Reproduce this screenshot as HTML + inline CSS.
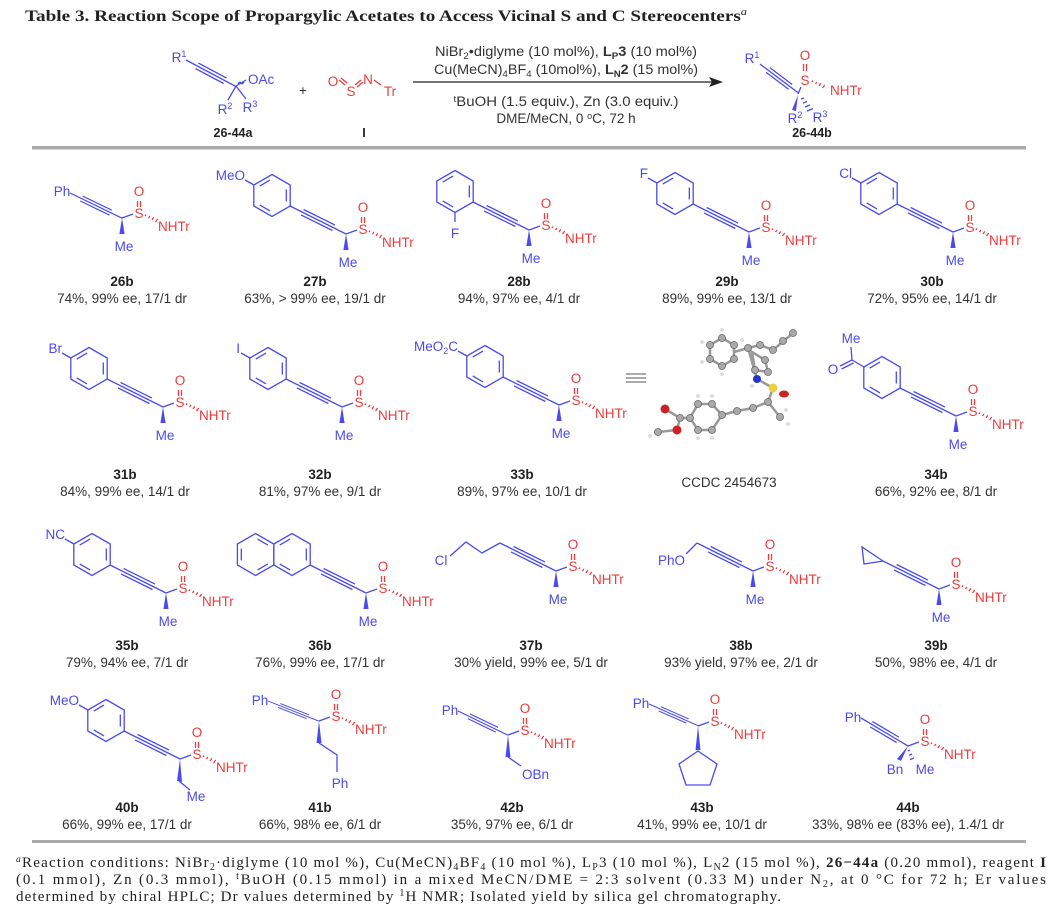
<!DOCTYPE html>
<html><head><meta charset="utf-8">
<style>
html,body{margin:0;padding:0;background:#fff;}
svg{display:block;}
text{font-family:"Liberation Sans",Arial,sans-serif;font-size:13.5px;}
.b{fill:#4a4af0;} .r{fill:#ee3a3a;} .k{fill:#222;font-weight:bold;} .g{fill:#333;}
.m{text-anchor:middle;} .e{text-anchor:end;}
.serif{font-family:"Liberation Serif","Times New Roman",serif;}
.bl{stroke:#4a4af0;stroke-width:1.3;fill:none;}
.rl{stroke:#ee3a3a;stroke-width:1.3;fill:none;}
</style></head><body>
<svg width="1058" height="912" viewBox="0 0 1058 912" xmlns="http://www.w3.org/2000/svg">
<defs>
<g id="yn" class="bl"><line x1="0" y1="0" x2="56" y2="28"/><line x1="11" y1="8.9" x2="42.4" y2="24.5"/><line x1="13.6" y1="3.5" x2="45" y2="19.1"/></g>
<g id="bz" class="bl"><path d="M0,-21 L18.2,-10.5 L18.2,10.5 L0,21 L-18.2,10.5 L-18.2,-10.5 Z"/><line x1="14.3" y1="-6" x2="14.3" y2="6"/><line x1="-2" y1="15.4" x2="-12.3" y2="9.4"/><line x1="-12.3" y1="-9.4" x2="-2" y2="-15.4"/></g>
<g id="tl"><line class="bl" x1="0" y1="0" x2="11" y2="-4"/><line class="rl" x1="15.5" y1="-17" x2="15.5" y2="-11"/><line class="rl" x1="18.5" y1="-17" x2="18.5" y2="-11"/><path class="rl" stroke-width="1.2" d="M23,-2 l1,-1.5 M26.5,0 l1.4,-2 M30,2 l1.8,-2.6 M33.5,4 l2.2,-3"/></g>
<g id="wd"><path d="M0,0 L-2.6,16 L2.6,16 Z" fill="#4a4af0"/></g>
</defs>

<!-- Title -->
<text x="25" y="21" class="serif" style="font-size:15.5px;font-weight:bold;fill:#222" textLength="722" lengthAdjust="spacingAndGlyphs">Table 3. Reaction Scope of Propargylic Acetates to Access Vicinal S and C Stereocenters<tspan style="font-style:italic;font-weight:normal;font-size:10px" dy="-6">a</tspan></text>

<!-- Header reactant -->
<text x="179" y="62" class="b m">R<tspan dy="-5" style="font-size:9px">1</tspan></text>
<g transform="translate(186,60) rotate(28) scale(1.03)"><g class="bl"><line x1="0" y1="0" x2="55" y2="0"/><line x1="12" y1="-3" x2="43" y2="-3"/><line x1="12" y1="3" x2="43" y2="3"/></g></g>
<line class="bl" x1="236" y1="86" x2="246" y2="80"/>
<path class="bl" d="M238,84 q2,-3 3,-1 q1,2 3,-1" />
<text x="248" y="84" class="b">OAc</text>
<line class="bl" x1="236" y1="86" x2="228" y2="100"/>
<line class="bl" x1="236" y1="86" x2="246" y2="99"/>
<text x="225" y="114" class="b m">R<tspan dy="-5" style="font-size:9px">2</tspan></text>
<text x="250" y="112" class="b m">R<tspan dy="-5" style="font-size:9px">3</tspan></text>
<text x="233" y="137" class="k m" style="font-size:12.5px">26-44a</text>
<text x="303" y="95" class="g m">+</text>
<text x="333" y="86" class="r m">O</text>
<line class="rl" x1="339" y1="80" x2="345" y2="85"/><line class="rl" x1="341" y1="78" x2="347" y2="83"/>
<text x="351" y="96" class="r m">S</text>
<line class="rl" x1="355" y1="85" x2="361" y2="80"/><line class="rl" x1="357" y1="87" x2="363" y2="82"/>
<text x="368" y="84" class="r m">N</text>
<line class="rl" x1="374" y1="80" x2="381" y2="85"/>
<text x="390" y="96" class="r m">Tr</text>
<text x="364" y="137" class="k m" style="font-size:12.5px">I</text>

<!-- Conditions -->
<text x="566" y="56" class="g m" textLength="262" lengthAdjust="spacingAndGlyphs">NiBr<tspan dy="3" style="font-size:9px">2</tspan><tspan dy="-3">•diglyme (10 mol%), </tspan><tspan font-weight="bold">L</tspan><tspan font-weight="bold" dy="3" style="font-size:9px">P</tspan><tspan font-weight="bold" dy="-3">3</tspan> (10 mol%)</text>
<text x="566" y="74" class="g m" textLength="264" lengthAdjust="spacingAndGlyphs">Cu(MeCN)<tspan dy="3" style="font-size:9px">4</tspan><tspan dy="-3">BF</tspan><tspan dy="3" style="font-size:9px">4</tspan><tspan dy="-3"> (10mol%), </tspan><tspan font-weight="bold">L</tspan><tspan font-weight="bold" dy="3" style="font-size:9px">N</tspan><tspan font-weight="bold" dy="-3">2</tspan> (15 mol%)</text>
<line x1="413" y1="82" x2="713" y2="82" stroke="#222" stroke-width="1.3"/>
<path d="M723,82 L709,77 L712,82 L709,87 Z" fill="#222"/>
<text x="566" y="106" class="g m" textLength="225" lengthAdjust="spacingAndGlyphs"><tspan dy="-4" style="font-size:9px">t</tspan><tspan dy="4">BuOH (1.5 equiv.), Zn (3.0 equiv.)</tspan></text>
<text x="566" y="123" class="g m">DME/MeCN, 0 <tspan dy="-4" style="font-size:9px">o</tspan><tspan dy="4">C, 72 h</tspan></text>

<!-- Header product -->
<text x="752" y="63" class="b m">R<tspan dy="-5" style="font-size:9px">1</tspan></text>
<g transform="translate(760,64) rotate(37)"><g class="bl"><line x1="0" y1="0" x2="48" y2="0"/><line x1="10" y1="-3" x2="38" y2="-3"/><line x1="10" y1="3" x2="38" y2="3"/></g></g>
<line class="bl" x1="798" y1="94" x2="801" y2="87"/>
<text x="805" y="85" class="r m">S</text>
<text x="805" y="60" class="r m">O</text>
<line class="rl" x1="803.5" y1="64" x2="803.5" y2="71"/><line class="rl" x1="806.5" y1="64" x2="806.5" y2="71"/>
<path class="rl" d="M812,82 l1,-1.5 M815.5,84 l1.4,-2 M819,86 l1.8,-2.6 M822.5,88 l2.2,-3"/>
<text x="830" y="95" class="r">NHTr</text>
<path d="M798,95 L792,110 L796,111 Z" fill="#4a4af0"/>
<path class="bl" d="M801,99 l3,-1 M803,103 l4,-1.5 M805,107 l5,-2 M807,111 l6,-2.5"/>
<text x="795" y="123" class="b m">R<tspan dy="-5" style="font-size:9px">2</tspan></text>
<text x="820" y="122" class="b m">R<tspan dy="-5" style="font-size:9px">3</tspan></text>
<text x="812" y="137" class="k m" style="font-size:12.5px">26-44b</text>

<rect x="32" y="146" width="994" height="3.5" fill="#aaa"/>

<!-- ===== Row 1 ===== -->
<text x="62" y="196" class="b m">Ph</text>
<use href="#yn" transform="translate(70,193) scale(0.93,0.9)"/>
<use href="#tl" transform="translate(122,218)"/><use href="#wd" transform="translate(122,218)"/>
<g transform="translate(122,218)"><text x="17" y="0" class="r m">S</text><text x="17" y="-22" class="r m">O</text><text x="36" y="13" class="r">NHTr</text><text x="2" y="33" class="b m">Me</text></g>
<text x="122" y="286" class="k m">26b</text><text x="122" y="303" class="g m">74%, 99% ee, 17/1 dr</text>

<use href="#bz" transform="translate(272,195.5)"/>
<line class="bl" x1="254" y1="185" x2="245" y2="180"/>
<text x="245" y="180" class="b e">MeO</text>
<use href="#yn" transform="translate(290,206)"/>
<use href="#tl" transform="translate(346,234)"/><use href="#wd" transform="translate(346,234)"/>
<g transform="translate(346,234)"><text x="17" y="0" class="r m">S</text><text x="17" y="-22" class="r m">O</text><text x="36" y="13" class="r">NHTr</text><text x="2" y="33" class="b m">Me</text></g>
<text x="315" y="286" class="k m">27b</text><text x="315" y="303" class="g m">63%, &gt; 99% ee, 19/1 dr</text>

<use href="#bz" transform="translate(455,191.5)"/>
<line class="bl" x1="455" y1="212.5" x2="455" y2="222"/>
<text x="455" y="238" class="b m">F</text>
<use href="#yn" transform="translate(473,202)"/>
<use href="#tl" transform="translate(529,230)"/><use href="#wd" transform="translate(529,230)"/>
<g transform="translate(529,230)"><text x="17" y="0" class="r m">S</text><text x="17" y="-22" class="r m">O</text><text x="36" y="13" class="r">NHTr</text><text x="2" y="33" class="b m">Me</text></g>
<text x="519" y="286" class="k m">28b</text><text x="519" y="303" class="g m">94%, 97% ee, 4/1 dr</text>

<use href="#bz" transform="translate(675,193.5)"/>
<line class="bl" x1="657" y1="183" x2="648" y2="178"/>
<text x="648" y="178" class="b e">F</text>
<use href="#yn" transform="translate(693,204)"/>
<use href="#tl" transform="translate(749,232)"/><use href="#wd" transform="translate(749,232)"/>
<g transform="translate(749,232)"><text x="17" y="0" class="r m">S</text><text x="17" y="-22" class="r m">O</text><text x="36" y="13" class="r">NHTr</text><text x="2" y="33" class="b m">Me</text></g>
<text x="727" y="286" class="k m">29b</text><text x="727" y="303" class="g m">89%, 99% ee, 13/1 dr</text>

<use href="#bz" transform="translate(879,193.5)"/>
<line class="bl" x1="861" y1="183" x2="852" y2="178"/>
<text x="852" y="178" class="b e">Cl</text>
<use href="#yn" transform="translate(897,204)"/>
<use href="#tl" transform="translate(953,232)"/><use href="#wd" transform="translate(953,232)"/>
<g transform="translate(953,232)"><text x="17" y="0" class="r m">S</text><text x="17" y="-22" class="r m">O</text><text x="36" y="13" class="r">NHTr</text><text x="2" y="33" class="b m">Me</text></g>
<text x="932" y="286" class="k m">30b</text><text x="932" y="303" class="g m">72%, 95% ee, 14/1 dr</text>

<!-- ===== Row 2 ===== -->
<use href="#bz" transform="translate(89,368.5)"/>
<line class="bl" x1="71" y1="358" x2="62" y2="353"/>
<text x="62" y="353" class="b e">Br</text>
<use href="#yn" transform="translate(107,379)"/>
<use href="#tl" transform="translate(163,407)"/><use href="#wd" transform="translate(163,407)"/>
<g transform="translate(163,407)"><text x="17" y="0" class="r m">S</text><text x="17" y="-22" class="r m">O</text><text x="36" y="13" class="r">NHTr</text><text x="2" y="33" class="b m">Me</text></g>
<text x="125" y="479" class="k m">31b</text><text x="125" y="496" class="g m">84%, 99% ee, 14/1 dr</text>

<use href="#bz" transform="translate(268,368.5)"/>
<line class="bl" x1="250" y1="358" x2="241" y2="353"/>
<text x="240" y="353" class="b e">I</text>
<use href="#yn" transform="translate(286,379)"/>
<use href="#tl" transform="translate(342,407)"/><use href="#wd" transform="translate(342,407)"/>
<g transform="translate(342,407)"><text x="17" y="0" class="r m">S</text><text x="17" y="-22" class="r m">O</text><text x="36" y="13" class="r">NHTr</text><text x="2" y="33" class="b m">Me</text></g>
<text x="320" y="479" class="k m">32b</text><text x="320" y="496" class="g m">81%, 97% ee, 9/1 dr</text>

<use href="#bz" transform="translate(485,366.5)"/>
<line class="bl" x1="467" y1="356" x2="458" y2="351"/>
<text x="458" y="351" class="b e">MeO<tspan dy="3" style="font-size:9px">2</tspan><tspan dy="-3">C</tspan></text>
<use href="#yn" transform="translate(503,377)"/>
<use href="#tl" transform="translate(559,405)"/><use href="#wd" transform="translate(559,405)"/>
<g transform="translate(559,405)"><text x="17" y="0" class="r m">S</text><text x="17" y="-22" class="r m">O</text><text x="36" y="13" class="r">NHTr</text><text x="2" y="33" class="b m">Me</text></g>
<text x="522" y="479" class="k m">33b</text><text x="522" y="496" class="g m">89%, 97% ee, 10/1 dr</text>

<g stroke="#777" stroke-width="1.3"><line x1="626" y1="374" x2="646" y2="374"/><line x1="626" y1="378" x2="646" y2="378"/><line x1="626" y1="382" x2="646" y2="382"/></g>

<g stroke="#999" stroke-width="2.5" fill="none">
<path d="M722,338 L734,345 L734,359 L722,366 L710,359 L710,345 Z"/>
<path d="M734,352 L748,348 L757,379 L773,388 L768,402 L780,417"/>
<path d="M748,348 L760,345 L773,350 L793,333"/>
<path d="M752,352 L765,360 L768,372 L755,370 Z"/>
<path d="M768,402 L753,408 L737,411 L722,415"/>
<path d="M722,415 L712,404 L698,404 L690,418 L698,430 L712,430 Z"/>
<path d="M690,418 L680,418 L665,409 M680,418 L677,430 L658,432"/>
</g>
<g fill="#aaa" stroke="#666" stroke-width="0.8">
<circle cx="722" cy="338" r="3.5"/><circle cx="734" cy="345" r="3.5"/><circle cx="734" cy="359" r="3.5"/><circle cx="722" cy="366" r="3.5"/><circle cx="710" cy="359" r="3.5"/><circle cx="710" cy="345" r="3.5"/>
<circle cx="748" cy="348" r="3.5"/><circle cx="760" cy="345" r="3.5"/><circle cx="773" cy="350" r="3.5"/><circle cx="783" cy="341" r="3.5"/><circle cx="793" cy="333" r="3.5"/>
<circle cx="765" cy="360" r="3.5"/><circle cx="768" cy="372" r="3.5"/><circle cx="755" cy="370" r="3.5"/>
<circle cx="768" cy="402" r="3.5"/><circle cx="780" cy="417" r="3.5"/><circle cx="753" cy="408" r="3.5"/><circle cx="737" cy="411" r="3.5"/><circle cx="722" cy="415" r="3.5"/>
<circle cx="712" cy="404" r="3.5"/><circle cx="698" cy="404" r="3.5"/><circle cx="690" cy="418" r="3.5"/><circle cx="698" cy="430" r="3.5"/><circle cx="712" cy="430" r="3.5"/><circle cx="680" cy="418" r="3.5"/><circle cx="658" cy="432" r="3.5"/>
</g>
<circle cx="757" cy="379" r="4" fill="#2233cc"/>
<circle cx="773" cy="388" r="4.5" fill="#e8d040"/>
<ellipse cx="784" cy="394" rx="5" ry="3.5" fill="#cc2222"/>
<circle cx="665" cy="409" r="4.5" fill="#cc2222"/>
<circle cx="677" cy="430" r="4.5" fill="#cc2222"/>
<g fill="#ddd"><circle cx="722" cy="330" r="2"/><circle cx="742" cy="340" r="2"/><circle cx="702" cy="342" r="2"/><circle cx="702" cy="362" r="2"/><circle cx="722" cy="374" r="2"/><circle cx="788" cy="424" r="2"/><circle cx="786" cy="410" r="2"/><circle cx="712" cy="396" r="2"/><circle cx="698" cy="396" r="2"/><circle cx="698" cy="438" r="2"/><circle cx="712" cy="438" r="2"/><circle cx="650" cy="436" r="2"/><circle cx="752" cy="386" r="2"/></g>
<text x="729" y="487" class="g m">CCDC 2454673</text>

<use href="#bz" transform="translate(882,377.5)"/>
<line class="bl" x1="864" y1="367" x2="852" y2="360"/>
<line class="bl" x1="852" y1="360" x2="851" y2="347"/>
<text x="851" y="343" class="b m">Me</text>
<line class="bl" x1="852" y1="360" x2="840" y2="366"/><line class="bl" x1="853.5" y1="363" x2="841.5" y2="369"/>
<text x="833" y="374" class="b m">O</text>
<use href="#yn" transform="translate(900,388)"/>
<use href="#tl" transform="translate(956,416)"/><use href="#wd" transform="translate(956,416)"/>
<g transform="translate(956,416)"><text x="17" y="0" class="r m">S</text><text x="17" y="-22" class="r m">O</text><text x="36" y="13" class="r">NHTr</text><text x="2" y="33" class="b m">Me</text></g>
<text x="936" y="479" class="k m">34b</text><text x="936" y="496" class="g m">66%, 92% ee, 8/1 dr</text>

<!-- ===== Row 3 ===== -->
<use href="#bz" transform="translate(92,554.5)"/>
<line class="bl" x1="74" y1="544" x2="65" y2="539"/>
<text x="65" y="539" class="b e">NC</text>
<use href="#yn" transform="translate(110,565)"/>
<use href="#tl" transform="translate(166,593)"/><use href="#wd" transform="translate(166,593)"/>
<g transform="translate(166,593)"><text x="17" y="0" class="r m">S</text><text x="17" y="-22" class="r m">O</text><text x="36" y="13" class="r">NHTr</text><text x="2" y="33" class="b m">Me</text></g>
<text x="127" y="650" class="k m">35b</text><text x="127" y="667" class="g m">79%, 94% ee, 7/1 dr</text>

<use href="#bz" transform="translate(292,554.5)"/>
<use href="#bz" transform="translate(255.6,554.5) scale(-1,1)"/>
<use href="#yn" transform="translate(310,565)"/>
<use href="#tl" transform="translate(366,593)"/><use href="#wd" transform="translate(366,593)"/>
<g transform="translate(366,593)"><text x="17" y="0" class="r m">S</text><text x="17" y="-22" class="r m">O</text><text x="36" y="13" class="r">NHTr</text><text x="2" y="33" class="b m">Me</text></g>
<text x="320" y="650" class="k m">36b</text><text x="320" y="667" class="g m">76%, 99% ee, 17/1 dr</text>

<text x="441" y="565" class="b m">Cl</text>
<polyline class="bl" points="450,556 466,542 482,553 500,543"/>
<use href="#yn" transform="translate(500,543)"/>
<use href="#tl" transform="translate(556,571)"/><use href="#wd" transform="translate(556,571)"/>
<g transform="translate(556,571)"><text x="17" y="0" class="r m">S</text><text x="17" y="-22" class="r m">O</text><text x="36" y="13" class="r">NHTr</text><text x="2" y="33" class="b m">Me</text></g>
<text x="531" y="650" class="k m">37b</text><text x="531" y="667" class="g m">30% yield, 99% ee, 5/1 dr</text>

<text x="685" y="565" class="b e">PhO</text>
<polyline class="bl" points="686,554 686,554 697,543"/>
<use href="#yn" transform="translate(697,543)"/>
<use href="#tl" transform="translate(753,571)"/><use href="#wd" transform="translate(753,571)"/>
<g transform="translate(753,571)"><text x="17" y="0" class="r m">S</text><text x="17" y="-22" class="r m">O</text><text x="36" y="13" class="r">NHTr</text><text x="2" y="33" class="b m">Me</text></g>
<text x="741" y="650" class="k m">38b</text><text x="741" y="667" class="g m">93% yield, 97% ee, 2/1 dr</text>

<path class="bl" d="M883,561 L862,547 L864,564 Z"/>
<use href="#yn" transform="translate(883,561)"/>
<use href="#tl" transform="translate(939,589)"/><use href="#wd" transform="translate(939,589)"/>
<g transform="translate(939,589)"><text x="17" y="0" class="r m">S</text><text x="17" y="-22" class="r m">O</text><text x="36" y="13" class="r">NHTr</text><text x="2" y="33" class="b m">Me</text></g>
<text x="936" y="650" class="k m">39b</text><text x="936" y="667" class="g m">50%, 98% ee, 4/1 dr</text>

<!-- ===== Row 4 ===== -->
<use href="#bz" transform="translate(106,720.5)"/>
<line class="bl" x1="88" y1="710" x2="79" y2="705"/>
<text x="79" y="705" class="b e">MeO</text>
<use href="#yn" transform="translate(124,731)"/>
<use href="#tl" transform="translate(180,759)"/>
<path d="M180,759 L177,781 L182,782 Z" fill="#4a4af0"/>
<line class="bl" x1="179.5" y1="781.5" x2="190" y2="790"/>
<text x="196" y="801" class="b m">Me</text>
<g transform="translate(180,759)"><text x="17" y="0" class="r m">S</text><text x="17" y="-22" class="r m">O</text><text x="36" y="13" class="r">NHTr</text></g>
<text x="127" y="812" class="k m">40b</text><text x="127" y="829" class="g m">66%, 99% ee, 17/1 dr</text>

<text x="260" y="705" class="b m">Ph</text>
<use href="#yn" transform="translate(268,701) scale(0.91,0.72)"/>
<use href="#tl" transform="translate(319,721)"/>
<path d="M319,721 L316.5,743 L321.5,743 Z" fill="#4a4af0"/>
<polyline class="bl" points="319,743 337,755 337,772"/>
<text x="340" y="788" class="b m">Ph</text>
<g transform="translate(319,721)"><text x="17" y="0" class="r m">S</text><text x="17" y="-22" class="r m">O</text><text x="36" y="13" class="r">NHTr</text></g>
<text x="320" y="812" class="k m">41b</text><text x="320" y="829" class="g m">66%, 98% ee, 6/1 dr</text>

<text x="450" y="715" class="b m">Ph</text>
<use href="#yn" transform="translate(458,711) scale(0.89,0.86)"/>
<use href="#tl" transform="translate(508,735)"/>
<path d="M508,735 L505.5,757 L510.5,757 Z" fill="#4a4af0"/>
<line class="bl" x1="508" y1="757" x2="521" y2="766"/>
<text x="522" y="779" class="b">OBn</text>
<g transform="translate(508,735)"><text x="17" y="0" class="r m">S</text><text x="17" y="-22" class="r m">O</text><text x="36" y="13" class="r">NHTr</text></g>
<text x="512" y="812" class="k m">42b</text><text x="512" y="829" class="g m">35%, 97% ee, 6/1 dr</text>

<text x="641" y="708" class="b m">Ph</text>
<use href="#yn" transform="translate(649,704) scale(0.88,0.78)"/>
<use href="#tl" transform="translate(698,726)"/>
<path d="M698,726 L695.5,750 L700.5,750 Z" fill="#4a4af0"/>
<path class="bl" d="M698,751 L717,764 L710,785 L686,785 L679,764 Z"/>
<g transform="translate(698,726)"><text x="17" y="0" class="r m">S</text><text x="17" y="-22" class="r m">O</text><text x="36" y="13" class="r">NHTr</text></g>
<text x="702" y="812" class="k m">43b</text><text x="702" y="829" class="g m">41%, 99% ee, 10/1 dr</text>

<text x="853" y="722" class="b m">Ph</text>
<use href="#yn" transform="translate(861,718) scale(0.84,1)"/>
<use href="#tl" transform="translate(908,746)"/>
<path d="M908,746 L897,759 L901,761 Z" fill="#4a4af0"/>
<path class="bl" d="M910,750 l-2,1 M912,754 l-3,1.3 M914,758 l-4,1.6"/>
<text x="895" y="774" class="b m">Bn</text>
<text x="925" y="774" class="b m">Me</text>
<g transform="translate(908,746)"><text x="17" y="0" class="r m">S</text><text x="17" y="-22" class="r m">O</text><text x="36" y="13" class="r">NHTr</text></g>
<text x="908" y="812" class="k m">44b</text><text x="908" y="829" class="g m">33%, 98% ee (83% ee), 1.4/1 dr</text>

<rect x="32" y="840" width="994" height="3" fill="#aaa"/>

<!-- Footnote -->
<g style="fill:#222">
<text x="16" y="867" class="serif" style="font-size:15px" textLength="1030" lengthAdjust="spacing"><tspan style="font-style:italic;font-size:9.5px" dy="-5">a</tspan><tspan dy="5">Reaction conditions: NiBr</tspan><tspan dy="3" style="font-size:10px">2</tspan><tspan dy="-3">·diglyme (10 mol %), Cu(MeCN)</tspan><tspan dy="3" style="font-size:10px">4</tspan><tspan dy="-3">BF</tspan><tspan dy="3" style="font-size:10px">4</tspan><tspan dy="-3"> (10 mol %), L</tspan><tspan dy="3" style="font-size:10px">P</tspan><tspan dy="-3">3 (10 mol %), L</tspan><tspan dy="3" style="font-size:10px">N</tspan><tspan dy="-3">2 (15 mol %), </tspan><tspan font-weight="bold">26−44a</tspan> (0.20 mmol), reagent <tspan font-weight="bold">I</tspan></text>
<text x="16" y="884" class="serif" style="font-size:15px" textLength="1030" lengthAdjust="spacing">(0.1 mmol), Zn (0.3 mmol), <tspan dy="-5" style="font-size:10px">t</tspan><tspan dy="5">BuOH (0.15 mmol) in a mixed MeCN/DME = 2:3 solvent (0.33 M) under N</tspan><tspan dy="3" style="font-size:10px">2</tspan><tspan dy="-3">, at 0 °C for 72 h; Er values</tspan></text>
<text x="16" y="901" class="serif" style="font-size:15px" textLength="765" lengthAdjust="spacing">determined by chiral HPLC; Dr values determined by <tspan dy="-5" style="font-size:10px">1</tspan><tspan dy="5">H NMR; Isolated yield by silica gel chromatography.</tspan></text>
</g>
</svg>
</body></html>
